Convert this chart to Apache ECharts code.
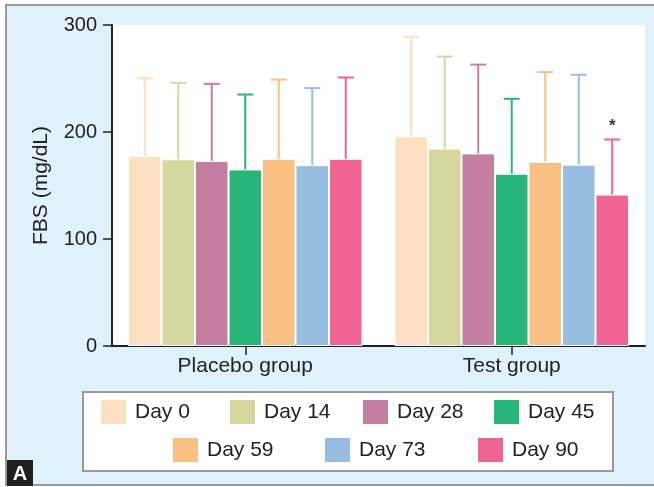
<!DOCTYPE html>
<html lang="en">
<head>
    <meta charset="UTF-8">
    <title>FBS bar chart</title>
    <script src="https://cdn.jsdelivr.net/npm/echarts@6/dist/echarts.min.js"></script>
    <style>
        html, body { margin: 0; padding: 0; background: #fff; }
        #main { width: 654px; height: 487px; }
    </style>
</head>
<body>
<div id="main"></div>
<script type="text/javascript">
    // data
    var groups = ['Placebo group', 'Test group'];
    var days = ['Day 0', 'Day 14', 'Day 28', 'Day 45', 'Day 59', 'Day 73', 'Day 90'];
    var colors = ['#FDDFC1', '#D6D79E', '#C47E9F', '#28B678', '#FAC083', '#98BDE3', '#F06494'];
    var placeboMean = [177.5, 174.5, 173, 165, 175, 169, 175];
    var placeboUpper = [250, 246, 245, 235, 249, 241, 251];
    var testMean = [196, 184.5, 180, 161, 172, 169.5, 141.5];
    var testUpper = [289, 270.5, 263, 231, 256, 253.5, 193];
    var testMarks = ['', '', '', '', '', '', '*'];
    var yTicks = [0, 100, 200, 300];

    // where each legend swatch sits (two rows, like the figure)
    var legendPos = [[99, 398], [228, 398], [361, 398], [492, 398], [171, 436], [323, 436], [476, 436]];

    var catGap = 0.12;
    var font = '"Liberation Sans", Arial, Helvetica, sans-serif';

    var myChart = echarts.init(document.getElementById('main'));

    function errRender(dayIdx) {
        return function (params, api) {
            var cat = api.value(0);
            var base = api.coord([cat, api.value(1)]);
            var top = api.coord([cat, api.value(2)]);
            var band = api.size([1, 0])[0];
            var bw = band * (1 - catGap) / days.length;
            var x = base[0] + (dayIdx - (days.length - 1) / 2) * bw;
            var style = { stroke: colors[dayIdx], lineWidth: 2 };
            var kids = [
                { type: 'line', shape: { x1: x, y1: base[1], x2: x, y2: top[1] }, style: style },
                { type: 'line', shape: { x1: x - 8, y1: top[1], x2: x + 8, y2: top[1] }, style: style }
            ];
            var mark = api.value(3);
            if (mark && mark !== '-') {
                kids.push({
                    type: 'text',
                    style: {
                        x: x, y: top[1] - 5, text: String(mark),
                        fill: '#333', font: 'bold 17px ' + font,
                        align: 'center', verticalAlign: 'bottom'
                    }
                });
            }
            return { type: 'group', children: kids };
        };
    }

    var series = [];
    days.forEach(function (d, i) {
        series.push({
            name: d,
            type: 'bar',
            barGap: '0%',
            barCategoryGap: (catGap * 100) + '%',
            itemStyle: { color: colors[i], borderColor: '#fff', borderWidth: 1 },
            data: [placeboMean[i], testMean[i]]
        });
    });
    days.forEach(function (d, i) {
        series.push({
            name: d,
            type: 'custom',
            renderItem: errRender(i),
            encode: { x: 0, y: 2 },
            data: [
                [0, placeboMean[i], placeboUpper[i], '-'],
                [1, testMean[i], testUpper[i], testMarks[i] || '-']
            ],
            z: 3
        });
    });

    var legends = days.map(function (d, i) {
        return {
            left: legendPos[i][0],
            top: legendPos[i][1],
            padding: 0,
            itemWidth: 27,
            itemHeight: 26,
            icon: 'rect',
            data: [d],
            textStyle: {
                fontFamily: font,
                fontSize: 21,
                color: '#222',
                padding: [0, 0, 0, 3]
            }
        };
    });

    var option = {
        backgroundColor: '#fff',
        animation: false,
        textStyle: { fontFamily: font },
        grid: {
            left: 112,
            right: 9,
            top: 25,
            bottom: 141,
            show: true,
            backgroundColor: '#fff',
            borderWidth: 0
        },
        graphic: [
            {
                type: 'rect',
                z: -10,
                silent: true,
                shape: { x: 6, y: 5, width: 700, height: 480 },
                style: { fill: '#DFF1FB', stroke: '#9a9a9a', lineWidth: 2 }
            },
            {
                type: 'rect',
                z: -5,
                silent: true,
                shape: { x: 83, y: 392, width: 530, height: 79 },
                style: { fill: '#fff', stroke: '#9a9a9a', lineWidth: 2 }
            },
            {
                type: 'group',
                left: 7,
                top: 460,
                children: [
                    { type: 'rect', shape: { x: 0, y: 0, width: 26, height: 26 }, style: { fill: '#231f20' } },
                    {
                        type: 'text',
                        style: {
                            x: 13, y: 14, text: 'A', fill: '#fff',
                            font: 'bold 20px ' + font, align: 'center', verticalAlign: 'middle'
                        }
                    }
                ]
            }
        ],
        legend: legends,
        xAxis: {
            type: 'category',
            data: groups,
            axisLine: { show: true, lineStyle: { color: '#222', width: 2 } },
            axisTick: { show: true, alignWithLabel: true, length: 9, lineStyle: { color: '#222', width: 1.5 } },
            axisLabel: { color: '#222', fontSize: 21, margin: 10, fontFamily: font },
            splitLine: { show: false }
        },
        yAxis: {
            type: 'value',
            min: 0,
            max: 300,
            interval: 100,
            name: 'FBS (mg/dL)',
            nameLocation: 'middle',
            nameGap: 60,
            nameTextStyle: { color: '#222', fontSize: 21, fontFamily: font },
            axisLine: { show: true, lineStyle: { color: '#222', width: 2 } },
            axisTick: { show: true, length: 9, lineStyle: { color: '#222', width: 1.5 } },
            axisLabel: {
                color: '#222', fontSize: 20, margin: 15, fontFamily: font,
                formatter: function (v) { return yTicks.indexOf(v) >= 0 ? String(v) : ''; }
            },
            splitLine: { show: false }
        },
        series: series
    };
    myChart.setOption(option);
</script>
</body>
</html>
